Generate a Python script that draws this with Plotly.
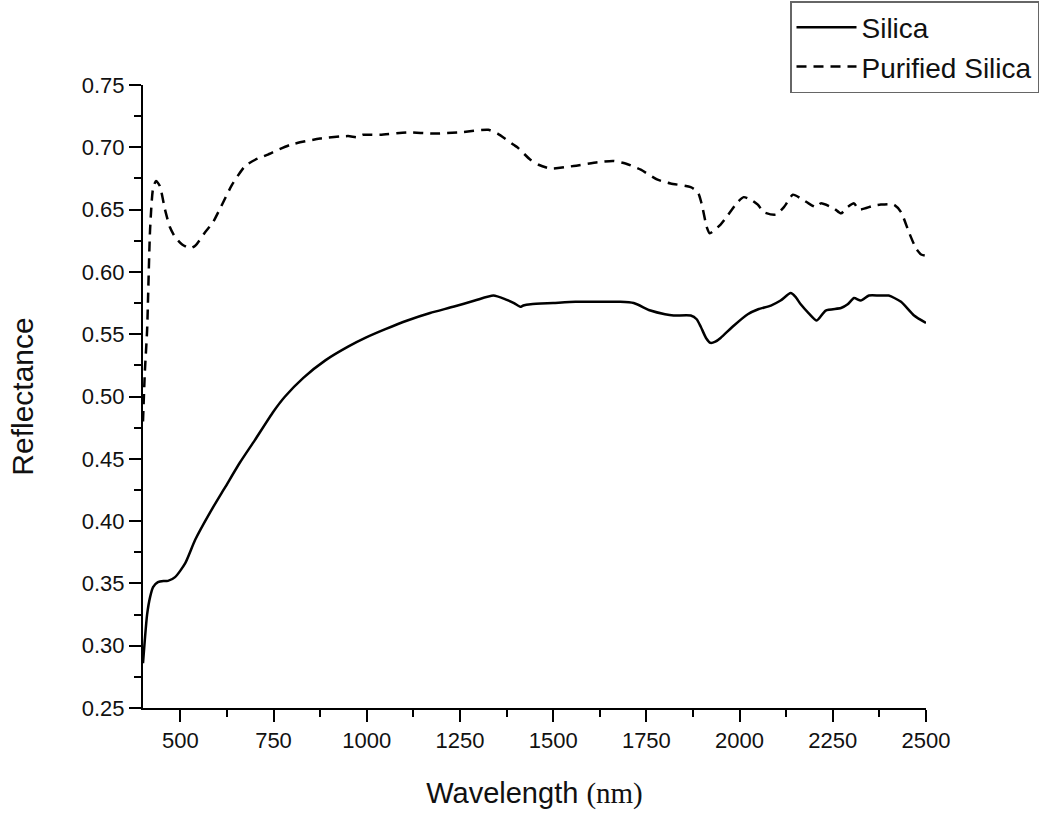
import plotly.graph_objects as go

silica_wl = [400, 405, 411, 419, 427, 440, 455, 467, 486, 513, 540, 580, 620, 660, 700, 750, 781,
             830, 889, 950, 996, 1050, 1109, 1170, 1232, 1290, 1340, 1372, 1395, 1412, 1420, 1440,
             1500, 1560, 1620, 1680, 1716, 1761, 1800, 1823, 1869, 1885, 1896, 1910, 1922, 1935,
             1949, 1985, 2022, 2050, 2084, 2110, 2137, 2150, 2164, 2185, 2207, 2231, 2272, 2290,
             2307, 2325, 2347, 2375, 2400, 2433, 2468, 2500]
silica_r = [0.286, 0.305, 0.325, 0.339, 0.347, 0.351, 0.352, 0.352, 0.355, 0.366, 0.385, 0.407,
            0.427, 0.447, 0.465, 0.488, 0.500, 0.515, 0.529, 0.540, 0.547, 0.554, 0.561, 0.567,
            0.572, 0.577, 0.581, 0.578, 0.575, 0.572, 0.573, 0.574, 0.575, 0.576, 0.576, 0.576,
            0.575, 0.569, 0.566, 0.565, 0.565, 0.562, 0.556, 0.547, 0.543, 0.544, 0.547, 0.557,
            0.566, 0.570, 0.573, 0.577, 0.583, 0.580, 0.574, 0.567, 0.561, 0.569, 0.571, 0.574,
            0.579, 0.577, 0.581, 0.581, 0.581, 0.576, 0.565, 0.559]

pur_wl = [400, 405, 411, 419, 427, 435, 445, 459, 472, 486, 505, 526, 540, 567, 588, 607, 639,
          674, 701, 733, 795, 875, 950, 975, 990, 1036, 1109, 1179, 1251, 1326, 1351, 1394, 1404,
          1439, 1461, 1493, 1555, 1619, 1662, 1694, 1735, 1780, 1815, 1869, 1888, 1898, 1912,
          1920, 1949, 1995, 2011, 2030, 2049, 2065, 2097, 2119, 2143, 2164, 2185, 2205, 2218,
          2253, 2272, 2290, 2307, 2320, 2358, 2379, 2414, 2433, 2454, 2473, 2487, 2500]
pur_r = [0.480, 0.520, 0.553, 0.634, 0.667, 0.673, 0.669, 0.650, 0.636, 0.628, 0.622, 0.619,
         0.621, 0.632, 0.640, 0.651, 0.670, 0.685, 0.690, 0.694, 0.702, 0.707, 0.709, 0.708,
         0.710, 0.710, 0.712, 0.711, 0.712, 0.714, 0.711, 0.702, 0.700, 0.690, 0.686, 0.683,
         0.685, 0.688, 0.689, 0.687, 0.682, 0.674, 0.671, 0.668, 0.664, 0.655, 0.636, 0.631,
         0.638, 0.656, 0.660, 0.658, 0.654, 0.648, 0.646, 0.652, 0.662, 0.659, 0.655, 0.652,
         0.655, 0.651, 0.647, 0.652, 0.655, 0.650, 0.653, 0.654, 0.654, 0.648, 0.632, 0.619,
         0.614, 0.613]

x_ticks = [500, 750, 1000, 1250, 1500, 1750, 2000, 2250, 2500]
y_ticks = [0.25, 0.30, 0.35, 0.40, 0.45, 0.50, 0.55, 0.60, 0.65, 0.70, 0.75]

FONT = "Liberation Sans, Arial, sans-serif"

fig = go.Figure()
fig.add_trace(go.Scatter(x=silica_wl, y=silica_r, mode="lines", name="Silica",
                         line=dict(color="black", width=2.5, shape="spline", smoothing=0.6)))
fig.add_trace(go.Scatter(x=pur_wl, y=pur_r, mode="lines", name="Purified Silica",
                         line=dict(color="black", width=2.5, dash="10px,7px",
                                   shape="spline", smoothing=0.6)))

axis_common = dict(showline=True, linecolor="black", linewidth=2, ticks="outside",
                   tickcolor="black", tickwidth=2, ticklen=12, showgrid=False, zeroline=False,
                   mirror=False, tickfont=dict(family=FONT, size=22, color="#111111"))

fig.update_xaxes(range=[400, 2500], tickvals=x_ticks, ticktext=[str(v) for v in x_ticks],
                 minor=dict(ticks="outside", ticklen=7, tickwidth=2, tickcolor="black",
                            tickvals=[625, 875, 1125, 1375, 1625, 1875, 2125, 2375]),
                 title=dict(text="Wavelength <span style='font-family:Liberation Serif'>(nm)</span>",
                            font=dict(family=FONT, size=29, color="#111111"), standoff=30),
                 **axis_common)
fig.update_yaxes(range=[0.25, 0.75], tickvals=y_ticks, ticktext=[f"{v:.2f}" for v in y_ticks],
                 minor=dict(ticks="outside", ticklen=7, tickwidth=2, tickcolor="black",
                            tickvals=[0.275, 0.325, 0.375, 0.425, 0.475, 0.525, 0.575, 0.625,
                                      0.675, 0.725]),
                 title=dict(text="Reflectance", font=dict(family=FONT, size=30, color="#111111"),
                            standoff=39),
                 **axis_common)

fig.update_layout(
    width=1051, height=814,
    margin=dict(l=143, r=125, t=85, b=106, autoexpand=False),
    paper_bgcolor="white", plot_bgcolor="white",
    showlegend=True,
    legend=dict(x=(790 - 143) / 783, y=(708 - 1) / 623, xanchor="left", yanchor="top",
                bordercolor="#666666", borderwidth=1.5, bgcolor="white",
                font=dict(family=FONT, size=28, color="#111111"),
                itemwidth=60, tracegroupgap=0),
)

fig.write_html("out.html")
